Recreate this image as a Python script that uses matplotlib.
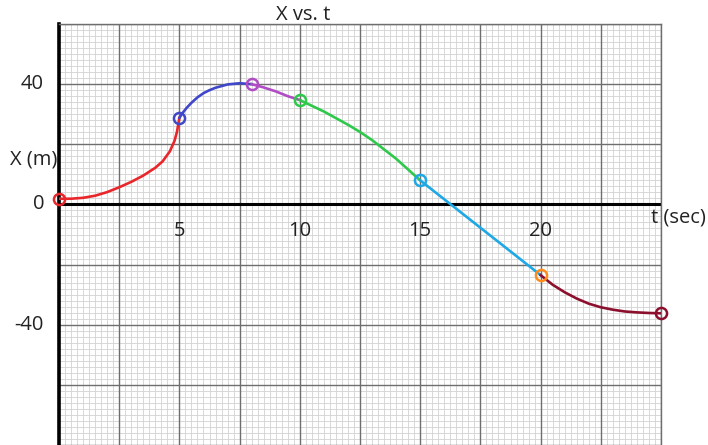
import matplotlib
matplotlib.use("Agg")
import matplotlib.pyplot as plt
from matplotlib.ticker import MultipleLocator

# ---- data ----
red_t = [0, 0.5, 1.0, 1.5, 2.0, 2.5, 3.0, 3.5, 4.0, 4.3, 4.6, 4.8, 4.9, 5.0]
red_x = [1.9, 1.9, 2.2, 2.9, 4.1, 5.7, 7.5, 9.6, 12.2, 14.3, 17.6, 21.2, 24.2, 28.8]

blue_t = [5.0, 5.15, 5.3, 5.5, 5.75, 6.0, 6.25, 6.5, 7.0, 7.5, 8.0]
blue_x = [28.8, 30.6, 32.1, 33.8, 35.6, 37.0, 38.0, 38.8, 39.9, 40.3, 40.0]

purple_t = [8.0, 8.5, 9.0, 9.5, 10.0]
purple_x = [40.0, 38.9, 37.6, 36.0, 34.7]

green_t = [10, 11, 12, 12.5, 13, 14, 15]
green_x = [34.7, 30.9, 26.5, 24.1, 21.4, 15.2, 8.0]

cyan_t = [15, 20]
cyan_x = [8.0, -23.5]

darkred_t = [20, 20.5, 21, 21.5, 22, 22.5, 23, 23.5, 24, 24.5, 25]
darkred_x = [-23.5, -26.7, -29.2, -31.3, -33.0, -34.2, -35.0, -35.6, -35.9, -36.1, -36.2]

point_t = [0, 5, 8, 10, 15, 20, 25]
point_x = [1.9, 28.8, 40.0, 34.7, 8.0, -23.5, -36.2]

x_tick_labels = [5, 10, 15, 20]
y_tick_labels = [40, 0, -40]

# ---- styling ----
C_RED = "#e8262b"
C_BLUE = "#4047c8"
C_PURPLE = "#b04cc4"
C_GREEN = "#2ec84a"
C_CYAN = "#1ea8e6"
C_ORANGE = "#ff8c1a"
C_DARKRED = "#8c0f2e"
point_colors = [C_RED, C_BLUE, C_PURPLE, C_GREEN, C_CYAN, C_ORANGE, C_DARKRED]

plt.rcParams["font.family"] = ["Open Sans", "DejaVu Sans"]
FS = 14.5

fig = plt.figure(figsize=(7.08, 4.45), dpi=100)
ax = fig.add_axes([59 / 708, 0, (661 - 59) / 708, (445 - 24) / 445])
ax.set_xlim(0, 25)
ax.set_ylim(-80, 60)

ax.xaxis.set_major_locator(MultipleLocator(2.5))
ax.xaxis.set_minor_locator(MultipleLocator(0.25))
ax.yaxis.set_major_locator(MultipleLocator(20))
ax.yaxis.set_minor_locator(MultipleLocator(2))
ax.grid(which="minor", color="#d2d2d2", lw=0.6)
ax.tick_params(which="both", length=0, labelbottom=False, labelleft=False)
ax.set_axisbelow(True)

# major grid drawn above the minor grid
for v in ax.get_xticks():
    if 0 <= v <= 25:
        ax.axvline(v, color="#6e6e6e", lw=1.0, zorder=1)
for v in ax.get_yticks():
    if -80 <= v <= 60:
        ax.axhline(v, color="#6e6e6e", lw=1.0, zorder=1)

for s in ["top", "right"]:
    ax.spines[s].set_color("#6e6e6e")
    ax.spines[s].set_linewidth(1.0)
ax.spines["bottom"].set_visible(False)
ax.spines["left"].set_color("black")
ax.spines["left"].set_linewidth(2.6)
ax.axhline(0, color="black", lw=2.2, zorder=2)

lw = 1.9
ax.plot(red_t, red_x, color=C_RED, lw=lw, zorder=3)
ax.plot(blue_t, blue_x, color=C_BLUE, lw=lw, zorder=3)
ax.plot(purple_t, purple_x, color=C_PURPLE, lw=lw, zorder=3)
ax.plot(green_t, green_x, color=C_GREEN, lw=lw, zorder=3)
ax.plot(cyan_t, cyan_x, color=C_CYAN, lw=lw, zorder=3)
ax.plot(darkred_t, darkred_x, color=C_DARKRED, lw=lw, zorder=3)

for t, x, c in zip(point_t, point_x, point_colors):
    ax.plot([t], [x], marker="o", ms=8, mfc="none", mec=c, mew=1.8,
            zorder=4, clip_on=False)

for v in x_tick_labels:
    ax.text(v, -9.0, str(v), ha="center", va="center", fontsize=FS, color="#222222")
for v in y_tick_labels:
    ax.text(-0.62, v, str(v), ha="right", va="center", fontsize=FS,
            color="#222222", clip_on=False)

fig.text(10 / 708, 1 - 160 / 445, "X (m)", ha="left", va="center", fontsize=FS, color="#222222")
fig.text(651 / 708, 1 - 217 / 445, "t (sec)", ha="left", va="center", fontsize=FS, color="#222222")
fig.text(303 / 708, 1 - 15 / 445, "X vs. t", ha="center", va="center", fontsize=FS, color="#222222")

fig.savefig("out.png", dpi=100)
